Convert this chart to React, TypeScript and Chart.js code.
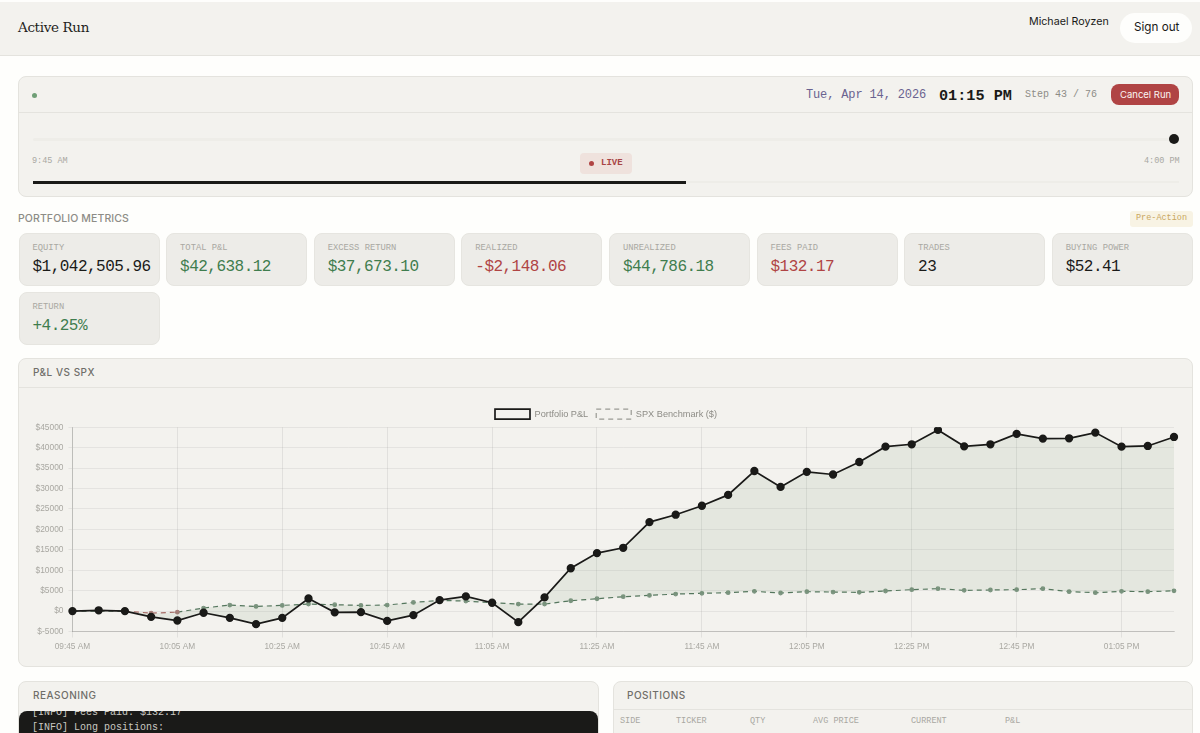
import React, { useEffect, useRef } from 'react';
import Chart from 'chart.js/auto';

const timeLabels = [
  '09:45 AM', '09:50 AM', '09:55 AM', '10:00 AM', '10:05 AM', '10:10 AM', '10:15 AM', '10:20 AM', '10:25 AM',
  '10:30 AM', '10:35 AM', '10:40 AM', '10:45 AM', '10:50 AM', '10:55 AM', '11:00 AM', '11:05 AM', '11:10 AM',
  '11:15 AM', '11:20 AM', '11:25 AM', '11:30 AM', '11:35 AM', '11:40 AM', '11:45 AM', '11:50 AM', '11:55 AM',
  '12:00 PM', '12:05 PM', '12:10 PM', '12:15 PM', '12:20 PM', '12:25 PM', '12:30 PM', '12:35 PM', '12:40 PM',
  '12:45 PM', '12:50 PM', '12:55 PM', '01:00 PM', '01:05 PM', '01:10 PM', '01:15 PM',
];

const portfolioPnl = [
  0, 200, 0, -1400, -2300, -400, -1650, -3200, -1650, 3100, -300, -250, -2400,
  -980, 2700, 3600, 2050, -2700, 3360, 10500, 14200, 15500, 21800, 23600, 25800, 28450, 34300, 30400,
  34100, 33450, 36500, 40260, 40840, 44360, 40340, 40840, 43380, 42230, 42310, 43700, 40260, 40430, 42638,
];

const spxBenchmark = [
  0, 0, 0, -500, -250, 750, 1480, 1150, 1400, 1720, 1560, 1400, 1480,
  2130, 2620, 2460, 2050, 1720, 1720, 2540, 3030, 3530, 3850, 4180, 4350, 4510, 4840, 4430,
  4760, 4670, 4590, 4920, 5250, 5490, 5080, 5170, 5250, 5490, 4760, 4510, 4840, 4760, 4965,
];

const metricsRow = [
  ['EQUITY', '$1,042,505.96', '#1a1a18'],
  ['TOTAL P&L', '$42,638.12', '#3f7d4e'],
  ['EXCESS RETURN', '$37,673.10', '#3f7d4e'],
  ['REALIZED', '-$2,148.06', '#b04444'],
  ['UNREALIZED', '$44,786.18', '#3f7d4e'],
  ['FEES PAID', '$132.17', '#b04444'],
  ['TRADES', '23', '#1a1a18'],
  ['BUYING POWER', '$52.41', '#1a1a18'],
  ['RETURN', '+4.25%', '#3f7d4e'],
];

const positionColumns: [string, number][] = [
  ['SIDE', 620], ['TICKER', 676], ['QTY', 750], ['AVG PRICE', 813], ['CURRENT', 911], ['P&L', 1005],
];

const MONO = '"Liberation Mono", "DejaVu Sans Mono", monospace';
const SANS = 'Inter, "Noto Sans", sans-serif';
const CARD = '#f3f2ee';
const BORDER = '#e4e3de';

const box = (left: number, top: number, width: number, height: number, extra: React.CSSProperties = {}): React.CSSProperties => ({
  position: 'absolute', left, top, width, height, boxSizing: 'border-box', ...extra,
});

const text = (left: number, top: number, size: number, color: string, font = MONO, extra: React.CSSProperties = {}): React.CSSProperties => ({
  position: 'absolute', left, top, fontSize: size, lineHeight: `${size + 2}px`, color, fontFamily: font, whiteSpace: 'pre', ...extra,
});

// legend sits a little right of centre and closer to the plot in the original
const legendNudge = {
  id: 'legendNudge',
  afterLayout(chart: any) {
    chart.legend.left += 3.75;
    chart.legend.right += 3.75;
    chart.legend.top += 1.8;
    chart.legend.bottom += 1.8;
  },
};

const PnlChart: React.FC = () => {
  const chartRef = useRef<HTMLCanvasElement | null>(null);

  useEffect(() => {
    if (!chartRef.current) return;
    const chart = new Chart(chartRef.current, {
      type: 'line',
      plugins: [legendNudge],
      data: {
        labels: timeLabels,
        datasets: [
          {
            label: 'Portfolio P&L',
            data: portfolioPnl,
            borderColor: '#1a1a18',
            backgroundColor: 'transparent',
            borderWidth: 1.7,
            pointRadius: 3.3,
            pointBackgroundColor: '#1a1a18',
            pointBorderColor: '#1a1a18',
            tension: 0,
            fill: { target: 1, above: 'rgba(74, 120, 74, 0.09)', below: 'rgba(74, 120, 74, 0.09)' },
          },
          {
            label: 'SPX Benchmark ($)',
            data: spxBenchmark,
            borderColor: '#56775f',
            backgroundColor: 'transparent',
            borderWidth: 1.2,
            borderDash: [5, 4],
            pointRadius: 1.8,
            pointBackgroundColor: (ctx: any) => ((ctx.raw ?? 0) < 0 ? '#a87f7a' : '#7b947f'),
            pointBorderColor: (ctx: any) => ((ctx.raw ?? 0) < 0 ? '#a87f7a' : '#7b947f'),
            tension: 0,
            fill: false,
            segment: {
              borderColor: (ctx: any) => (ctx.p1.parsed.y < 0 ? '#a86a66' : '#56775f'),
            },
          },
        ],
      },
      options: {
        animation: false,
        responsive: false,
        maintainAspectRatio: false,
        layout: { padding: { left: 10.5, right: 18, top: 11.3, bottom: 10.5 } },
        plugins: {
          legend: {
            display: true,
            position: 'top',
            labels: {
              font: { family: '"Liberation Sans", Arial, sans-serif', size: 9.2 },
              color: '#8d8c86',
              boxWidth: 35,
              boxHeight: 10,
              padding: 8,
              generateLabels: () => [
                { text: 'Portfolio P&L', fillStyle: 'transparent', strokeStyle: '#1a1a18', lineWidth: 1.7, datasetIndex: 0, fontColor: '#8d8c86' },
                { text: 'SPX Benchmark ($)', fillStyle: 'transparent', strokeStyle: '#9a9a94', lineWidth: 1.2, lineDash: [5, 4], datasetIndex: 1, fontColor: '#8d8c86' },
              ],
            },
          },
          tooltip: { enabled: false },
        },
        scales: {
          x: {
            grid: { color: 'rgba(0, 0, 0, 0.09)', lineWidth: 0.8, tickLength: 6 },
            border: { color: 'rgba(0, 0, 0, 0.16)' },
            ticks: {
              font: { family: '"Liberation Sans", Arial, sans-serif', size: 8.3 },
              color: '#a9a8a2',
              autoSkip: true,
              maxTicksLimit: 11,
              maxRotation: 0,
              padding: 4,
            },
          },
          y: {
            min: -5000,
            max: 45000,
            grid: { color: 'rgba(0, 0, 0, 0.06)', lineWidth: 1, tickLength: 4 },
            border: { color: 'rgba(0, 0, 0, 0.16)' },
            ticks: {
              stepSize: 5000,
              font: { family: '"Liberation Sans", Arial, sans-serif', size: 8.4 },
              color: '#a9a8a2',
              padding: 5,
              callback: (value: any) => `$${value}`,
            },
          },
        },
      },
    });
    return () => chart.destroy();
  }, []);

  return <canvas ref={chartRef} width={1172} height={278} style={{ position: 'absolute', left: 20, top: 388, width: 1172, height: 278 }} />;
};

const App: React.FC = () => {
  useEffect(() => {
    document.body.style.margin = '0';
    document.body.style.overflow = 'hidden';
  }, []);

  const cardW = 141;
  const cardStep = 147.6;

  return (
    <div style={{ position: 'relative', width: 1200, height: 733, overflow: 'hidden', background: '#fefefc' }}>
      {/* top bar */}
      <div style={box(0, 2, 1200, 54, { background: CARD, borderBottom: `1px solid ${BORDER}` })} />
      <div style={text(18, 20, 13.5, '#1f1f1c', '"DejaVu Serif", "Liberation Serif", serif', { letterSpacing: -0.35 })}>Active Run</div>
      <div style={text(1029, 16, 10.7, '#1a1a18', SANS)}>Michael Royzen</div>
      <div style={box(1120, 13, 72, 30, { background: '#fefefc', borderRadius: 15 })} />
      <div style={text(1134, 21, 11.7, '#1a1a18', SANS)}>Sign out</div>

      {/* run card */}
      <div style={box(18, 76, 1175, 121, { background: CARD, border: `1px solid ${BORDER}`, borderRadius: 8 })} />
      <div style={box(19, 112, 1173, 1, { background: BORDER })} />
      <div style={box(32, 93, 5, 5, { background: '#6f9f76', borderRadius: 3 })} />
      <div style={text(806, 88, 12, '#6a6390', MONO, { letterSpacing: -0.14 })}>Tue, Apr 14, 2026</div>
      <div style={text(939, 88, 15.2, '#1a1a18', MONO, { fontWeight: 700 })}>01:15 PM</div>
      <div style={text(1025, 89, 10, '#8d8c86')}>Step 43 / 76</div>
      <div style={box(1111, 84, 68, 21, { background: '#b04444', borderRadius: 8 })} />
      <div style={text(1120, 89, 9.5, '#fbf5f2', SANS)}>Cancel Run</div>
      <div style={box(33, 138, 1140, 3, { background: '#eeede8', borderRadius: 2 })} />
      <div style={box(1169, 134, 10, 10, { background: '#1a1a18', borderRadius: 5 })} />
      <div style={text(32, 156, 8.5, '#a9a8a2')}>9:45 AM</div>
      <div style={text(1144, 156, 8.5, '#a9a8a2')}>4:00 PM</div>
      <div style={box(580, 153, 52, 21, { background: '#efe2dd', borderRadius: 4 })} />
      <div style={box(589, 161, 5, 5, { background: '#b04444', borderRadius: 3 })} />
      <div style={text(601, 158, 9, '#a84545', MONO, { fontWeight: 700 })}>LIVE</div>
      <div style={box(33, 181, 1146, 2, { background: '#eeede8' })} />
      <div style={box(33, 181, 653, 2.5, { background: '#1a1a18' })} />

      {/* metrics */}
      <div style={text(18, 213, 10.5, '#8d8c86', SANS, { letterSpacing: 0.1, fontWeight: 500 })}>PORTFOLIO METRICS</div>
      <div style={box(1130, 211, 63, 16, { background: '#f8f3e4', borderRadius: 3 })} />
      <div style={text(1136, 213, 8.5, '#c9a75e', MONO)}>Pre-Action</div>
      {metricsRow.map(([name, value, color], i) => {
        const left = i === 8 ? 18.5 : 18.5 + i * cardStep;
        const top = i === 8 ? 292 : 233;
        return (
          <React.Fragment key={name}>
            <div style={box(left, top, cardW, 53, { background: '#edece8', border: '1px solid #e6e5e0', borderRadius: 8 })} />
            <div style={text(left + 14, top + 10, 8.8, '#a9a8a2')}>{name}</div>
            <div style={text(left + 14, top + 25, 16, color, MONO, { letterSpacing: -0.52 })}>{value}</div>
          </React.Fragment>
        );
      })}

      {/* chart card */}
      <div style={box(18, 358, 1175, 309, { background: CARD, border: `1px solid ${BORDER}`, borderRadius: 8 })} />
      <div style={box(19, 387, 1173, 1, { background: BORDER })} />
      <div style={text(33, 366, 10, '#6f6e69', SANS, { letterSpacing: 0.5, fontWeight: 500 })}>P&amp;L VS SPX</div>
      <PnlChart />

      {/* lower cards */}
      <div style={box(18, 681, 581, 80, { background: CARD, border: `1px solid ${BORDER}`, borderRadius: 8 })} />
      <div style={text(33, 689, 10, '#6f6e69', SANS, { letterSpacing: 0.5, fontWeight: 500 })}>REASONING</div>
      <div style={box(19, 711, 579, 40, { background: '#1a1a18', borderRadius: '8px 8px 0 0', overflow: 'hidden' })}>
        <div style={text(13, -4, 10, '#c9c8c2')}>[INFO] Fees Paid: $132.17</div>
        <div style={text(13, 11, 10, '#c9c8c2')}>[INFO] Long positions:</div>
      </div>
      <div style={box(613, 681, 580, 80, { background: CARD, border: `1px solid ${BORDER}`, borderRadius: 8 })} />
      <div style={box(614, 709, 578, 1, { background: BORDER })} />
      <div style={text(627, 689, 10, '#6f6e69', SANS, { letterSpacing: 0.5, fontWeight: 500 })}>POSITIONS</div>
      {positionColumns.map(([name, left]) => (
        <div key={name} style={text(left, 716, 8.5, '#a9a8a2')}>{name}</div>
      ))}
    </div>
  );
};

export default App;
